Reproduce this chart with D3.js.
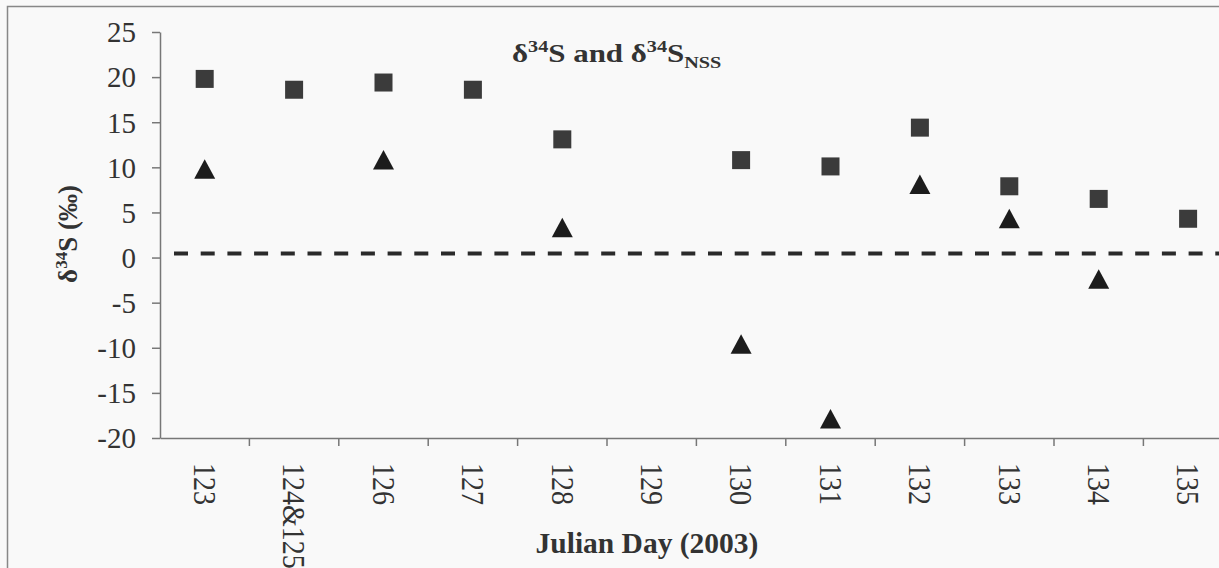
<!DOCTYPE html>
<html>
<head>
<meta charset="utf-8">
<script src="https://cdn.jsdelivr.net/npm/d3@7/dist/d3.min.js"></script>
<style>
  body { margin: 0; background: #f9f9f9; overflow: hidden; }
  .tick text { font-family: "Liberation Serif", serif; fill: #333; }
  .axisTitle { font-family: "Liberation Serif", serif; font-weight: bold; fill: #333; }
</style>
</head>
<body>
<div id="chart"></div>
<script>
// julian days (2003), 124 and 125 were pooled
var days = ["123", "124&125", "126", "127", "128", "129", "130", "131", "132", "133", "134", "135"];
// delta 34S, total (squares)
var d34S = [19.8, 18.6, 19.4, 18.6, 13.1, null, 10.8, 10.1, 14.4, 7.9, 6.5, 4.3];
// delta 34S non sea salt (triangles)
var d34Snss = [9.8, null, 10.8, null, 3.3, null, -9.6, -17.9, 8.1, 4.3, -2.4, null];
var yTicks = [-20, -15, -10, -5, 0, 5, 10, 15, 20, 25];
var refLine = 0.45;

var svgWidth = 1219;
var svgHeight = 568;
var margin = { top: 32, left: 160, bottom: 130 };
var width = 12 * 89.4;
var height = svgHeight - margin.top - margin.bottom;

var svg = d3.select("#chart")
  .append("svg")
  .attr("width", svgWidth)
  .attr("height", svgHeight);

// outer frame of the chart area
svg.append("rect")
  .attr("x", 7.5).attr("y", 6.5)
  .attr("width", 1240).attr("height", 600)
  .attr("fill", "none").attr("stroke", "#888").attr("stroke-width", 1.5);

var chart = svg.append("g")
  .attr("transform", "translate(" + margin.left + "," + margin.top + ")");

var xScale = d3.scaleBand().domain(days).range([0, width]);
var yScale = d3.scaleLinear().domain([-20, 25]).range([height, 0]);

var bottomAxis = d3.axisBottom(xScale).tickSize(0).tickSizeOuter(0);
var leftAxis = d3.axisLeft(yScale)
  .tickValues(yTicks)
  .tickFormat(function(d) { return String(d); })   // plain hyphen like the original
  .tickSize(8).tickSizeOuter(0).tickPadding(16);

// y axis
var gy = chart.append("g").call(leftAxis);
gy.selectAll("path, line").attr("stroke", "#777").attr("stroke-width", 1.5);
gy.selectAll("text").style("font-size", "29px").attr("dy", "0.34em");

// x axis
var gx = chart.append("g")
  .attr("transform", "translate(0," + height + ")")
  .call(bottomAxis);
gx.select(".domain").attr("stroke", "#777").attr("stroke-width", 1.5);
gx.selectAll("text")
  .style("font-size", "28px")
  .attr("text-anchor", "start")
  .attr("transform", "translate(0,25) rotate(90) scale(1,1.12)")
  .attr("x", 0).attr("y", 0).attr("dy", "0.34em");

// tick marks between the categories
chart.append("g").selectAll("line")
  .data(days)
  .enter().append("line")
  .attr("x1", function(d) { return xScale(d) + xScale.bandwidth(); })
  .attr("x2", function(d) { return xScale(d) + xScale.bandwidth(); })
  .attr("y1", height).attr("y2", height + 8)
  .attr("stroke", "#777").attr("stroke-width", 1.5);

// dashed reference line
chart.append("line")
  .attr("x1", 14).attr("x2", width)
  .attr("y1", yScale(refLine)).attr("y2", yScale(refLine))
  .attr("stroke", "#2a2a2a").attr("stroke-width", 4)
  .attr("stroke-dasharray", "14,12.7");

var xc = function(i) { return xScale(days[i]) + xScale.bandwidth() / 2; };

// squares
chart.append("g").selectAll("rect")
  .data(d34S.map(function(v, i) { return { i: i, v: v }; }).filter(function(d) { return d.v !== null; }))
  .enter().append("rect")
  .attr("x", function(d) { return xc(d.i) - 9; })
  .attr("y", function(d) { return yScale(d.v) - 9; })
  .attr("width", 18).attr("height", 18)
  .attr("fill", "#3b3b3b");

// triangles
chart.append("g").selectAll("path")
  .data(d34Snss.map(function(v, i) { return { i: i, v: v }; }).filter(function(d) { return d.v !== null; }))
  .enter().append("path")
  .attr("transform", function(d) { return "translate(" + xc(d.i) + "," + yScale(d.v) + ")"; })
  .attr("d", "M0,-10L10.5,9.5L-10.5,9.5Z")
  .attr("fill", "#1c1c1c");

// chart title
var title = svg.append("text")
  .attr("class", "axisTitle")
  .attr("transform", "translate(512,62) scale(1.19,1)")
  .style("font-size", "26px");
title.append("tspan").text("δ");
title.append("tspan").attr("dy", -10).style("font-size", "17px").text("34");
title.append("tspan").attr("dy", 10).text("S and δ");
title.append("tspan").attr("dy", -10).style("font-size", "17px").text("34");
title.append("tspan").attr("dy", 10).text("S");
title.append("tspan").attr("dy", 6).style("font-size", "17px").text("NSS");

// y axis title
var ytitle = svg.append("text")
  .attr("class", "axisTitle")
  .attr("transform", "translate(77,234) rotate(-90)")
  .attr("text-anchor", "middle")
  .style("font-size", "27px");
ytitle.append("tspan").text("δ");
ytitle.append("tspan").attr("dy", -10).style("font-size", "17px").text("34");
ytitle.append("tspan").attr("dy", 10).text("S (‰)");

// x axis title
svg.append("text")
  .attr("class", "axisTitle")
  .attr("x", 647).attr("y", 553)
  .attr("text-anchor", "middle")
  .style("font-size", "29.5px")
  .text("Julian Day (2003)");
</script>
</body>
</html>
